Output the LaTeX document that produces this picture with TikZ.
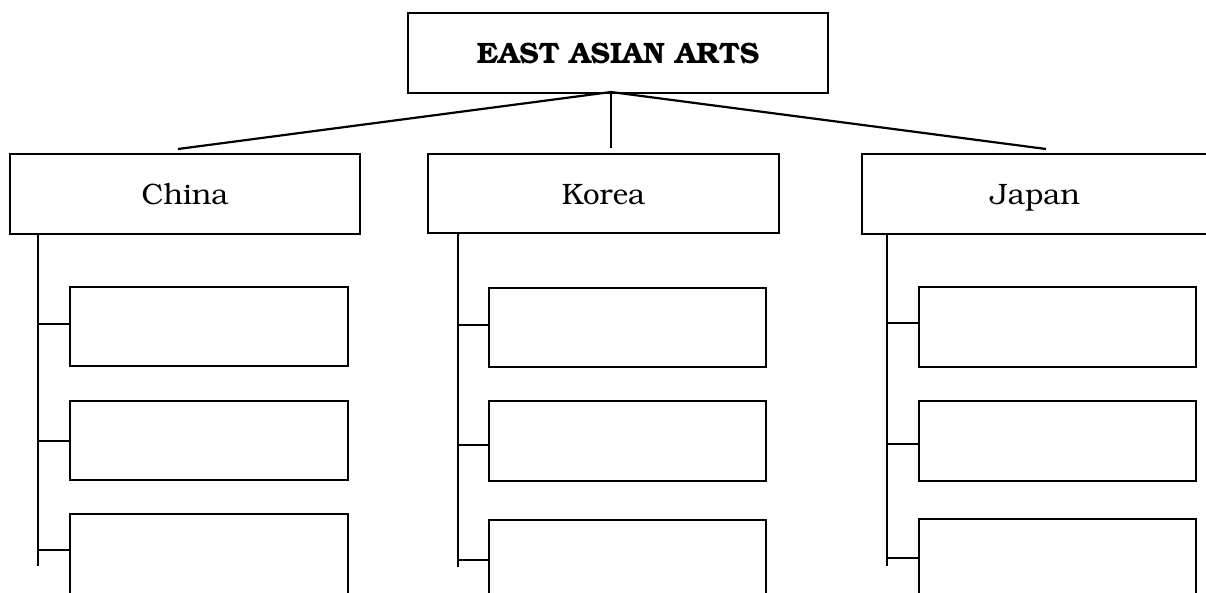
\documentclass[tikz,border=0pt]{standalone}
\usepackage[T1]{fontenc}
\usepackage{bookman}
\begin{document}
\begin{tikzpicture}[x=1pt,y=-1pt,
  box/.style={draw, line width=2.2pt, inner sep=0pt, anchor=north west},
  conn/.style={line width=2.2pt},
  head/.style={font=\fontsize{29.5}{34}\selectfont, text height=21pt, text depth=0pt},
  title/.style={font=\fontsize{29.5}{34}\selectfont\bfseries}]
\useasboundingbox (0,0) rectangle (1206,592);
\clip (0,0) rectangle (1206,592);
% top
\node[box, title, minimum width=420pt, minimum height=80pt] (top) at (407,12) {EAST ASIAN ARTS};
\coordinate (apex) at (611,92);
% headers
\node[box, head, minimum width=350pt, minimum height=80pt] (china) at (9,153) {China};
\node[box, head, minimum width=351pt, minimum height=79pt] (korea) at (427,153) {Korea};
\node[box, head, minimum width=346pt, minimum height=80pt] (japan) at (861,153) {Japan};
\coordinate (chinaT) at (178,149);
\coordinate (koreaT) at (611,148);
\coordinate (japanT) at (1046,149);
\draw[conn] (apex) -- (chinaT);
\draw[conn] (apex) -- (koreaT);
\draw[conn] (apex) -- (japanT);
% children China
\node[box, minimum width=278pt, minimum height=79pt] (c1) at (69,286) {};
\node[box, minimum width=278pt, minimum height=79pt] (c2) at (69,400) {};
\node[box, minimum width=278pt, minimum height=80pt] (c3) at (69,513) {};
% children Korea
\node[box, minimum width=277pt, minimum height=79pt] (k1) at (488,287) {};
\node[box, minimum width=277pt, minimum height=80pt] (k2) at (488,400) {};
\node[box, minimum width=277pt, minimum height=75pt] (k3) at (488,519) {};
% children Japan
\node[box, minimum width=277pt, minimum height=80pt] (j1) at (918,286) {};
\node[box, minimum width=277pt, minimum height=80pt] (j2) at (918,400) {};
\node[box, minimum width=277pt, minimum height=76pt] (j3) at (918,518) {};
% spines
\coordinate (cs) at (38,233); \coordinate (ce) at (38,566);
\coordinate (ks) at (458,233); \coordinate (ke) at (458,567);
\coordinate (js) at (887,233); \coordinate (je) at (887,566);
\draw[conn] (cs) -- (ce);
\draw[conn] (ks) -- (ke);
\draw[conn] (js) -- (je);
% ticks
\draw[conn] ([yshift=3pt]c1.west -| cs) -- ([yshift=3pt]c1.west);
\draw[conn] (c2.west -| cs) -- (c2.west);
\draw[conn] ([yshift=4pt]c3.west -| cs) -- ([yshift=4pt]c3.west);
\draw[conn] ([yshift=3pt]k1.west -| ks) -- ([yshift=3pt]k1.west);
\draw[conn] ([yshift=-4pt]k2.west -| ks) -- ([yshift=-4pt]k2.west);
\draw[conn] ([yshift=-2pt]k3.west -| ks) -- ([yshift=-2pt]k3.west);
\draw[conn] ([yshift=4pt]j1.west -| js) -- ([yshift=4pt]j1.west);
\draw[conn] ([yshift=-3pt]j2.west -| js) -- ([yshift=-3pt]j2.west);
\draw[conn] ([yshift=-1pt]j3.west -| js) -- ([yshift=-1pt]j3.west);
\end{tikzpicture}
\end{document}
